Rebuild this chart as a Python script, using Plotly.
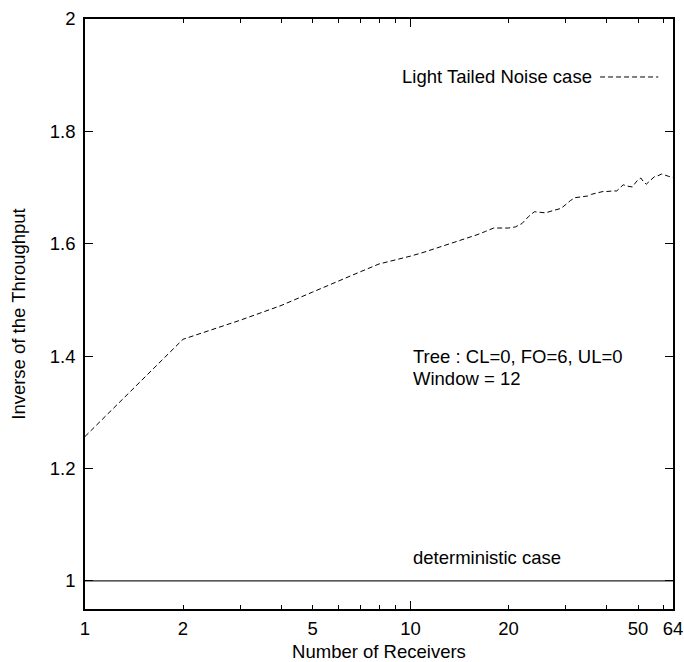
import plotly.graph_objects as go

# Data
receivers = list(range(1, 65))
light_tailed = [
    1.257, 1.430, 1.464, 1.490, 1.514, 1.534, 1.550, 1.564, 1.571, 1.578,
    1.585, 1.592, 1.598, 1.604, 1.610, 1.616, 1.622, 1.628, 1.628, 1.628,
    1.630, 1.636, 1.648, 1.657, 1.656, 1.655, 1.658, 1.661, 1.663, 1.670,
    1.677, 1.682, 1.683, 1.684, 1.685, 1.688, 1.690, 1.692, 1.693, 1.693,
    1.694, 1.694, 1.694, 1.700, 1.705, 1.703, 1.702, 1.701, 1.708, 1.714,
    1.717, 1.710, 1.706, 1.711, 1.716, 1.719, 1.720, 1.722, 1.724, 1.723,
    1.721, 1.720, 1.719, 1.718,
]
deterministic_x = [1, 64]
deterministic_y = [1.0, 1.0]

x_tick_vals = [1, 2, 5, 10, 20, 50, 64]
x_tick_text = ["1", "2", "5", "10", "20", "50", "64"]
x_minor_vals = [3, 4, 6, 7, 8, 9, 30, 40, 60]
x_decade_vals = [1, 10]
y_tick_vals = [1, 1.2, 1.4, 1.6, 1.8, 2]
y_tick_text = ["1", "1.2", "1.4", "1.6", "1.8", "2"]

FONT = "Liberation Sans, Arial, Helvetica, sans-serif"
FS = 18.5

fig = go.Figure()
fig.add_trace(go.Scatter(
    x=receivers, y=light_tailed, mode="lines",
    line=dict(color="black", width=1, dash="5px,3px"),
    name="Light Tailed Noise case", showlegend=False,
))
fig.add_trace(go.Scatter(
    x=deterministic_x, y=deterministic_y, mode="lines",
    line=dict(color="#222222", width=1.2),
    name="deterministic case", showlegend=False,
))
# invisible trace to anchor overlay axis with taller decade ticks
fig.add_trace(go.Scatter(
    x=deterministic_x, y=deterministic_y, mode="lines", xaxis="x2",
    line=dict(width=0), hoverinfo="skip", showlegend=False, opacity=0,
))

fig.update_layout(
    width=684, height=662,
    margin=dict(l=85, r=11, t=19, b=53),
    paper_bgcolor="white", plot_bgcolor="white",
    font=dict(family=FONT, size=FS, color="black"),
    xaxis=dict(
        type="log", range=[0, 1.80618], automargin=False,
        tickvals=x_tick_vals, ticktext=x_tick_text,
        ticks="inside", ticklen=4, tickwidth=1, tickcolor="black",
        minor=dict(tickvals=x_minor_vals, ticks="inside", ticklen=4,
                   tickwidth=1, tickcolor="black"),
        showline=True, linecolor="black", linewidth=1.5, mirror="ticks",
        showgrid=False, zeroline=False,
        ticklabelstandoff=2,
        tickfont=dict(size=FS),
        title=dict(text="Number of Receivers", font=dict(size=FS), standoff=10),
    ),
    xaxis2=dict(
        type="log", range=[0, 1.80618], overlaying="x", matches="x",
        automargin=False,
        tickvals=x_decade_vals, ticks="inside", ticklen=8, tickwidth=1.2,
        tickcolor="black", showticklabels=False, mirror="ticks",
        showline=False, showgrid=False, zeroline=False, side="bottom",
        anchor="y",
    ),
    yaxis=dict(
        range=[0.95, 2.0], automargin=False,
        tickvals=y_tick_vals, ticktext=y_tick_text,
        ticks="inside", ticklen=8, tickwidth=1.2, tickcolor="black",
        showline=True, linecolor="black", linewidth=1.5, mirror="ticks",
        showgrid=False, zeroline=False,
        ticklabelstandoff=4,
        tickfont=dict(size=FS),
        title=dict(text="Inverse of the Throughput", font=dict(size=FS), standoff=19),
    ),
)

fig.add_annotation(
    x=0.876, y=0.9017, xref="paper", yref="paper",
    text="Light Tailed Noise case", showarrow=False,
    xanchor="right", yanchor="middle", xshift=-6,
    font=dict(size=FS),
)
fig.add_shape(
    type="line", xref="paper", yref="paper",
    x0=0.876, x1=0.975, y0=0.9017, y1=0.9017,
    line=dict(color="black", width=1, dash="5px,3px"),
)
fig.add_annotation(
    x=1.0, y=1.399, xref="x", yref="y",
    text="Tree : CL=0, FO=6, UL=0", showarrow=False,
    xanchor="left", yanchor="middle", font=dict(size=FS),
)
fig.add_annotation(
    x=1.0, y=1.361, xref="x", yref="y",
    text="Window = 12", showarrow=False,
    xanchor="left", yanchor="middle", font=dict(size=FS),
)
fig.add_annotation(
    x=1.0, y=1.041, xref="x", yref="y",
    text="deterministic case", showarrow=False,
    xanchor="left", yanchor="middle", font=dict(size=FS),
)

fig.write_html(
    "out.html",
    config={"displayModeBar": False},
    post_script="document.body.style.margin='0px';document.body.style.overflow='hidden';",
)
